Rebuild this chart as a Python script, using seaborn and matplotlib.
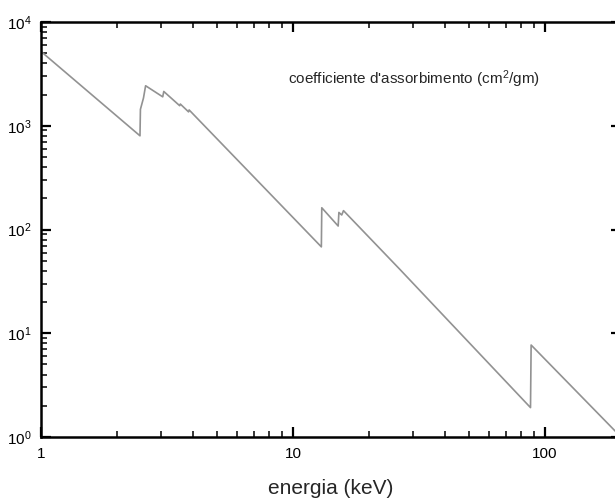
import numpy as np
import pandas as pd
import matplotlib
matplotlib.use("Agg")
import matplotlib.pyplot as plt
import seaborn as sns
from matplotlib.ticker import LogLocator, FuncFormatter, NullFormatter

# mass attenuation coefficient (log-log, keV vs cm^2/g)
energy = [1.0, 2.47, 2.48, 2.55, 2.60, 3.04, 3.07, 3.55, 3.57, 3.85, 3.87,
          12.95, 13.0, 15.1, 15.2, 15.6, 15.85, 26.6, 87.5, 88.0, 200.0]
coeff = [5200, 800, 1440, 1850, 2430, 1900, 2140, 1560, 1620, 1360, 1420,
         68, 162, 108, 146, 138, 152, 41, 1.92, 7.7, 1.0]
x_ticks = [1, 10, 100]
x_tick_labels = ["1", "10", "100"]
annotation = "coefficiente d'assorbimento (cm$^2$/gm)"
x_label = "energia (keV)"

df = pd.DataFrame({"energy": energy, "coeff": coeff})

sns.set_theme(style="ticks")
plt.rcParams["font.family"] = ["Liberation Sans", "DejaVu Sans"]
plt.rcParams["mathtext.default"] = "regular"

fig = plt.figure(figsize=(6.15, 5.0), dpi=100)
ax = fig.add_axes([41 / 615, 1 - 437 / 500, (621 - 41) / 615, (437 - 22) / 500])

sns.lineplot(data=df, x="energy", y="coeff", ax=ax, sort=False, estimator=None,
             color="#929292", linewidth=1.2)

ax.set_xscale("log")
ax.set_yscale("log")
ax.set_xlim(1, 200)
ax.set_ylim(1, 1e4)

ax.set_xticks(x_ticks)
ax.set_xticklabels(x_tick_labels)
ax.xaxis.set_minor_locator(LogLocator(base=10, subs=np.arange(2, 10)))
ax.xaxis.set_minor_formatter(NullFormatter())
ax.yaxis.set_major_locator(LogLocator(base=10))
ax.yaxis.set_minor_locator(LogLocator(base=10, subs=np.arange(2, 10)))
ax.yaxis.set_major_formatter(FuncFormatter(lambda v, p: r"$10^{%d}$" % round(np.log10(v))))
ax.yaxis.set_minor_formatter(NullFormatter())

ax.tick_params(which="both", direction="in", top=True, right=True, colors="black")
ax.tick_params(which="major", length=7, width=1.6, labelsize=11, pad=7)
ax.tick_params(which="minor", length=4, width=1.1)
for s in ax.spines.values():
    s.set_linewidth(1.8)
    s.set_color("black")

ax.set_xlabel(x_label, fontsize=15, labelpad=13)
ax.set_ylabel("")
ax.text(9.55, 2800, annotation, fontsize=11, ha="left", va="center")

fig.savefig("out.png", dpi=100)
